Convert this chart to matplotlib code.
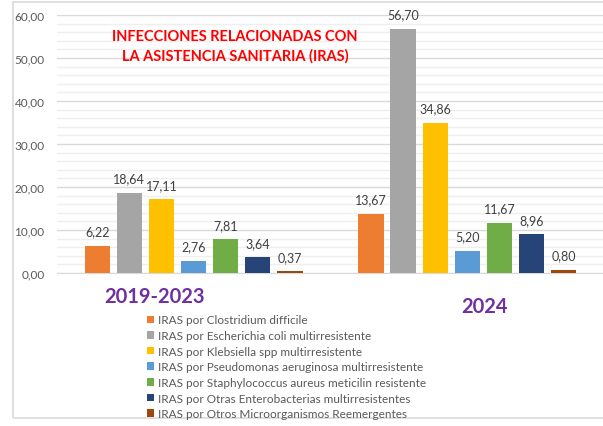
import matplotlib
matplotlib.use("Agg")
import matplotlib.pyplot as plt
from matplotlib.patches import Rectangle
from matplotlib.ticker import MultipleLocator, FuncFormatter
import numpy as np

plt.rcParams['font.family'] = ['Lato', 'DejaVu Sans']

periods = ['2019-2023', '2024']
series = [
    'IRAS por Clostridium difficile',
    'IRAS por Escherichia coli multirresistente',
    'IRAS por Klebsiella spp multirresistente',
    'IRAS por Pseudomonas aeruginosa multirresistente',
    'IRAS por Staphylococcus aureus meticilin resistente',
    'IRAS por Otras Enterobacterias multirresistentes',
    'IRAS por Otros Microorganismos Reemergentes',
]
values_2019_2023 = [6.22, 18.64, 17.11, 2.76, 7.81, 3.64, 0.37]
values_2024 = [13.67, 56.70, 34.86, 5.20, 11.67, 8.96, 0.80]
colors = ['#ED7D31', '#A5A5A5', '#FFC000', '#5B9BD5', '#70AD47', '#264478', '#9E480E']

W, H = 603, 427
fig = plt.figure(figsize=(W / 100, H / 100), dpi=100)

# chart frame
fig.patches.append(Rectangle((12.5 / W, 1 - 419 / H), 700 / W, 416 / H,
                             transform=fig.transFigure, fill=False,
                             edgecolor='#D9D9D9', linewidth=1.2))

ax = fig.add_axes([57 / W, 1 - 274 / H, (W - 57) / W, (274 - 16) / H])

px = 273.8  # pixels per group unit
c0 = 193.5  # pixel centre of first group
step = 32.1 / px
width = 25.4 / px
data = np.array([values_2019_2023, values_2024])
x = np.arange(len(periods))
bars = []
for i, name in enumerate(series):
    pos = x + (i - 3) * step
    b = ax.bar(pos, data[:, i], width=width, color=colors[i], label=name, zorder=3)
    bars.append(b)
    for xx, v in zip(pos, data[:, i]):
        ax.text(xx, v + 2.0, f'{v:.2f}'.replace('.', ','), ha='center', va='bottom',
                fontsize=9, color='#404040')

ax.set_xlim((57 - c0) / px, (W - c0) / px)
ax.set_ylim(0, 60)
ax.yaxis.set_major_locator(MultipleLocator(10))
ax.yaxis.set_minor_locator(MultipleLocator(2))
ax.yaxis.set_major_formatter(FuncFormatter(lambda v, p: f'{v:.2f}'.replace('.', ',')))
ax.grid(True, which='major', axis='y', color='#D9D9D9', linewidth=1.0, zorder=0)
ax.grid(True, which='minor', axis='y', color='#EFEFEF', linewidth=1.0, zorder=0)
ax.set_xticks([])
ax.tick_params(axis='y', which='both', length=0, pad=9, labelsize=8.5, labelcolor='#595959')
for s in ['top', 'right', 'left']:
    ax.spines[s].set_visible(False)
ax.spines['bottom'].set_color('#D9D9D9')
ax.set_facecolor('none')

fig.text(235 / W, 1 - 46.5 / H, 'INFECCIONES RELACIONADAS CON\nLA ASISTENCIA SANITARIA (IRAS)',
         ha='center', va='center', color='#FF0000', fontsize=10.5, fontweight='bold',
         linespacing=1.45)

fig.text(154.5 / W, 1 - 297 / H, periods[0], ha='center', va='center',
         color='#7030A0', fontsize=14.5, fontweight='bold')
fig.text(484 / W, 1 - 307 / H, periods[1], ha='center', va='center',
         color='#7030A0', fontsize=14.5, fontweight='bold')

fig.legend(handles=bars, loc='upper left', bbox_to_anchor=(147 / W, 1 - 315.5 / H),
           frameon=False, fontsize=8.5, labelcolor='#595959', handlelength=0.6,
           handleheight=0.6, handletextpad=0.35, labelspacing=0.39, borderpad=0,
           borderaxespad=0)

fig.savefig('out.png', dpi=100, facecolor='white')
